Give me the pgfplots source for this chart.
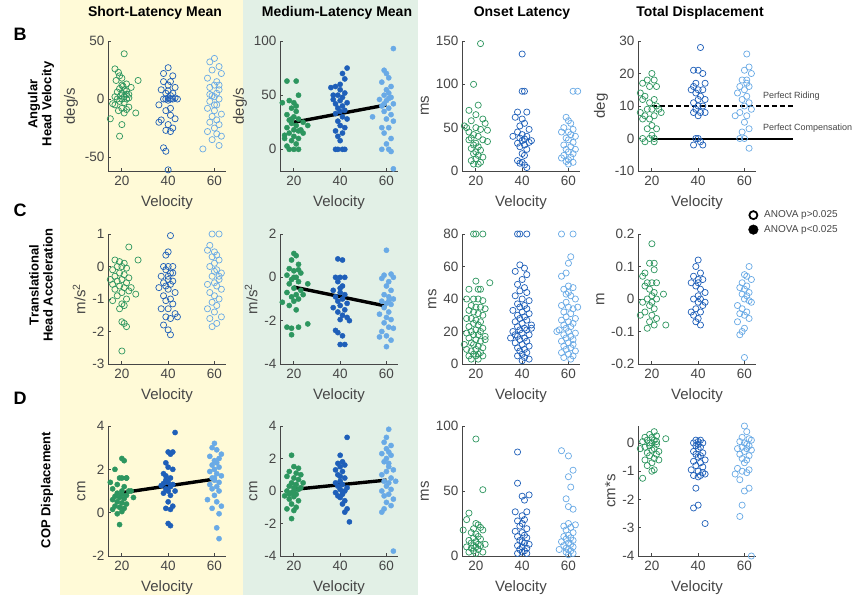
\documentclass[border=0pt]{standalone}
\usepackage{fontspec}
\setmainfont{Liberation Sans}
\usepackage{pgfplots}
\pgfplotsset{compat=1.18}

\definecolor{cg}{RGB}{45,150,95}
\definecolor{cb}{RGB}{30,95,185}
\definecolor{clb}{RGB}{105,170,230}
\definecolor{bgy}{RGB}{255,250,215}
\definecolor{bgg}{RGB}{226,240,230}
\definecolor{axgray}{RGB}{70,70,70}
\definecolor{txgray}{RGB}{70,70,70}

\pgfplotsset{
  panel/.style={
    scale only axis, width=118pt, height=130pt, anchor=north west,
    axis x line*=bottom, axis y line*=left,
    axis line style={draw=axgray, line width=0.8pt},
    xmin=14, xmax=65, xtick={20,40,60},
    tick align=inside, major tick length=3pt,
    tick style={axgray, line width=0.8pt},
    xlabel={Velocity},
    tick label style={font=\fontsize{13.5}{14}\selectfont, text=txgray},
    xticklabel style={yshift=-2pt},
    label style={font=\fontsize{15}{16}\selectfont, text=txgray},
    xlabel style={yshift=-3pt},
    /pgf/number format/assume math mode=true,
    clip=false,
  },
  op/.style={only marks, mark=o, mark size=3.1pt,
    mark options={line width=0.7pt, draw=#1, fill=none}},
  fl/.style={only marks, mark=*, mark size=2.6pt,
    mark options={draw=#1, fill=#1}},
  fit/.style={black, line width=3.4pt, no marks},
}

\begin{document}
\begin{tikzpicture}
\path[use as bounding box, fill=white] (0pt,0pt) rectangle (866pt,-613pt);
\fill[bgy] (60pt,0pt) rectangle (243pt,-595pt);
\fill[bgg] (243pt,0pt) rectangle (418pt,-595pt);

% column titles
\begin{scope}[every node/.style={font=\fontsize{14}{16}\selectfont\bfseries}]
\node at (155pt,-13pt) {Short-Latency Mean};
\node at (337pt,-13pt) {Medium-Latency Mean};
\node at (522pt,-13pt) {Onset Latency};
\node at (700pt,-13pt) {Total Displacement};
\end{scope}

% row letters and labels
\begin{scope}[every node/.style={font=\fontsize{18}{20}\selectfont\bfseries}]
\node at (20pt,-34pt) {B};
\node at (20pt,-210pt) {C};
\node at (20pt,-398pt) {D};
\end{scope}
\begin{scope}[every node/.style={font=\fontsize{13}{14}\selectfont\bfseries, rotate=90, align=center}]
\node at (41pt,-104pt) {Angular\\Head Velocity};
\node at (41pt,-285pt) {Translational\\Head Acceleration};
\node at (47pt,-490pt) {COP Displacement};
\end{scope}

% ---------------- row B ----------------
\begin{axis}[panel, at={(108pt,-41pt)}, ymin=-62, ymax=50, ytick={-50,0,50}, ylabel={deg/s}]
\addplot[op=cg] coordinates {(21,39)(17,26)(18.5,23)(19,20)(20,18)(17.5,16)(22,13)(20.5,11)(19,9)(21,8)(18,6)(20,5)(22,4)(19.5,3)(17,2)(21,2)(23,1)(18,0)(20,0)(22,0)(19,-2)(21,-3)(17,-5)(23,4)(20,-8)(22,-9)(18.5,-10)(21,-12)(15,-17)(20,-22)(19,-32)(27,16)(26,-12)(24,10)(23,-7)(16,-4)(20,12)(22,7)};
\addplot[op=cb] coordinates {(40,27)(38,22)(42,20)(41,15)(38,15)(40,12)(43,10)(37,8)(39,5)(41,3)(40,1)(39,0)(41,0)(42,0)(38,0)(43,1)(40,-1)(44,0)(36,-5)(41,-8)(39,-10)(41,-14)(43,-17)(37,-18)(40,-22)(42,-25)(39,-27)(38,-42)(39,-45)(40,-61)(41,-28)(36,-20)(42,5)(40,7)};
\addplot[op=clb] coordinates {(60,35)(58,32)(62,28)(59,25)(63,22)(57,18)(61,15)(60,12)(58,10)(62,8)(61,5)(59,3)(60,2)(62,0)(58,-2)(61,-5)(57,-8)(60,-10)(63,-13)(59,-15)(61,-18)(58,-20)(62,-22)(60,-25)(57,-28)(61,-30)(63,-32)(59,-35)(62,-40)(55,-43)(60,-5)(62,12)(58,4)};
\end{axis}

\begin{axis}[panel, at={(280pt,-41pt)}, ymin=-20, ymax=100, ytick={0,50,100}, ylabel={deg/s}]
\addplot[fl=cg] coordinates {(17,63)(21,63)(15,43)(20,43)(22,50)(18,45)(19,38)(21,35)(17,32)(20,30)(22,28)(18,27)(24,25)(19,24)(21,22)(17,20)(26,22)(20,18)(22,17)(18,15)(24,15)(16,13)(20,12)(22,10)(19,8)(21,5)(17,3)(18,0)(20,0)(22,0)(23,18)(19,28)(21,40)(16,10)};
\addplot[fl=cb] coordinates {(43,75)(41,70)(38,58)(36,57)(40,55)(42,52)(39,50)(41,48)(37,46)(40,45)(43,43)(38,42)(41,40)(39,38)(42,36)(40,35)(38,33)(41,30)(43,28)(39,26)(40,22)(42,20)(38,17)(41,15)(39,12)(40,8)(38,0)(39,0)(41,0)(42,0)(40,60)(37,50)(42,65)};
\addplot[fl=clb] coordinates {(63,93)(59,73)(60,70)(61,66)(58,62)(62,58)(60,55)(61,52)(59,50)(62,48)(57,46)(60,45)(63,42)(58,40)(61,38)(59,35)(62,32)(54,30)(60,28)(63,26)(58,20)(61,20)(59,15)(62,10)(60,5)(58,0)(61,0)(62,-2)(63,-18)(59,42)(61,47)};
\addplot[fit] coordinates {(20,25)(60,41)};
\end{axis}

\begin{axis}[panel, at={(462pt,-41pt)}, ymin=0, ymax=150, ytick={0,50,100,150}, ylabel={ms}]
\addplot[op=cg] coordinates {(22,147)(19,100)(21,76)(17,70)(20,65)(23,60)(18,58)(15,52)(16,50)(20,50)(22,48)(17,45)(25,47)(19,42)(21,40)(18,38)(23,36)(25,34)(20,32)(19,30)(21,28)(18,26)(22,24)(20,22)(19,20)(21,18)(23,16)(20,14)(18,12)(22,10)(19,8)(21,8)(24,55)(17,36)};
\addplot[op=cb] coordinates {(40,135)(40,92)(41,92)(38,68)(42,68)(37,62)(40,60)(41,55)(39,52)(43,48)(38,45)(40,42)(42,40)(39,38)(41,37)(40,35)(43,33)(38,32)(41,30)(39,28)(42,25)(40,20)(41,18)(38,12)(40,10)(39,9)(41,7)(42,4)(36,40)(44,35)};
\addplot[op=clb] coordinates {(62,92)(64,92)(59,62)(60,58)(61,55)(58,50)(62,48)(60,45)(57,45)(61,42)(63,40)(59,38)(60,36)(62,33)(58,30)(61,28)(59,25)(60,22)(62,20)(58,18)(61,16)(60,13)(59,11)(62,10)(57,15)(63,25)(60,8)};
\end{axis}

\begin{axis}[panel, at={(638pt,-41pt)}, ymin=-10, ymax=30, ytick={-10,0,10,20,30}, ylabel={deg}]
\addplot[op=cg] coordinates {(20,20)(18,18)(21,18)(16,17)(19,16)(15,14)(17,13)(21,12)(16,12)(19,11)(22,10)(18,9)(20,9)(15,8)(24,8)(17,7)(21,7)(19,6)(16,6)(20,4)(22,3)(18,3)(20,1)(16,0)(19,0)(21,0)(17,-1)(21,-1)(22,16)(23,9)};
\addplot[op=cb] coordinates {(41,28)(38,21)(40,21)(42,20)(43,17)(38,16)(40,15)(42,15)(37,15)(39,14)(41,13)(43,12)(38,11)(40,10)(42,10)(39,9)(41,8)(38,8)(43,8)(40,7)(39,0)(40,0)(41,-1)(38,-2)(42,-2)(40,12)(39,17)};
\addplot[op=clb] coordinates {(61,26)(62,22)(60,21)(63,20)(59,18)(61,17)(58,16)(62,16)(60,15)(57,14)(61,13)(59,12)(62,11)(60,10)(63,9)(58,8)(61,7)(56,7)(60,5)(62,3)(59,2)(60,0)(58,0)(62,-3)(61,18)};
\addplot[black, dashed, dash pattern=on 5pt off 3pt, line width=2pt] coordinates {(20,10)(81,10)};
\addplot[black, line width=2pt] coordinates {(20,0)(81,0)};
\node[anchor=west, font=\fontsize{9}{10}\selectfont, text=txgray] at (axis cs:66.5,13) {Perfect Riding};
\node[anchor=west, font=\fontsize{9}{10}\selectfont, text=txgray] at (axis cs:66.5,3.3) {Perfect Compensation};
\end{axis}

% ---------------- row C ----------------
\begin{axis}[panel, at={(108pt,-234pt)}, ymin=-3, ymax=1, ytick={-3,-2,-1,0,1}, ylabel={m/s\textsuperscript{2}}]
\addplot[op=cg] coordinates {(23,0.6)(27,0.2)(17,0.2)(19,0.15)(21,0.1)(18,0)(20,0)(22,-0.05)(16,-0.1)(19,-0.2)(21,-0.25)(17,-0.3)(23,-0.35)(20,-0.4)(18,-0.45)(22,-0.5)(16,-0.55)(19,-0.6)(21,-0.65)(17,-0.7)(23,-0.75)(20,-0.8)(26,-0.85)(18,-0.9)(22,-1.0)(16,-1.05)(20,-1.15)(21,-1.2)(19,-1.3)(20,-1.7)(21,-1.75)(22,-1.85)(20,-2.6)(24,-0.65)(15,-0.4)};
\addplot[op=cb] coordinates {(41,0.95)(40,0.45)(39,0.35)(38,0)(40,0)(42,0)(39,-0.1)(41,-0.2)(37,-0.3)(40,-0.4)(42,-0.45)(38,-0.5)(41,-0.55)(39,-0.6)(36,-0.65)(40,-0.7)(43,-0.8)(38,-0.9)(41,-1.0)(39,-1.05)(42,-1.15)(40,-1.3)(37,-1.3)(43,-1.45)(39,-1.55)(41,-1.6)(44,-1.55)(38,-1.8)(40,-1.95)(41,-2.1)(42,-0.2)(40,-0.3)};
\addplot[op=clb] coordinates {(59,1.0)(62,1.0)(58,0.65)(57,0.5)(60,0.45)(61,0.35)(59,0.3)(62,0.2)(60,0.1)(58,0)(61,-0.1)(63,-0.2)(59,-0.3)(62,-0.4)(60,-0.5)(57,-0.55)(61,-0.6)(63,-0.7)(58,-0.8)(60,-0.9)(62,-1.0)(59,-1.1)(61,-1.2)(57,-1.3)(60,-1.4)(63,-1.55)(58,-1.6)(61,-1.75)(59,-1.85)(62,-0.3)(60,-0.15)};
\end{axis}

\begin{axis}[panel, at={(280pt,-234pt)}, ymin=-4, ymax=2, ytick={-4,-2,0,2}, ylabel={m/s\textsuperscript{2}}]
\addplot[fl=cg] coordinates {(20,1.1)(21,1.0)(19,0.8)(22,0.6)(18,0.4)(20,0.3)(23,0.2)(17,0.1)(21,0)(19,-0.1)(22,-0.2)(26,-0.3)(18,-0.3)(20,-0.5)(23,-0.6)(17,-0.7)(21,-0.8)(19,-0.9)(22,-1.0)(15,-1.15)(20,-1.1)(18,-1.3)(21,-1.5)(17,-2.3)(19,-2.35)(22,-2.3)(26,-2.15)(19,-2.65)(24,-0.8)(20,0.0)(22,0.35)};
\addplot[fl=cb] coordinates {(39,0.85)(41,0.8)(38,0)(40,0)(42,0)(39,-0.2)(41,-0.4)(37,-0.6)(40,-0.7)(42,-0.8)(38,-0.9)(41,-1.0)(39,-1.1)(43,-1.2)(40,-1.3)(37,-1.4)(42,-1.5)(39,-1.6)(41,-1.75)(43,-1.85)(40,-1.95)(44,-2.0)(38,-2.45)(39,-2.55)(41,-2.7)(40,-3.1)(42,-3.1)(40,-0.5)};
\addplot[fl=clb] coordinates {(60,1.25)(62,0.15)(59,0.1)(63,0.0)(58,-0.05)(61,-0.2)(60,-0.4)(62,-0.6)(59,-0.8)(61,-0.9)(63,-1.0)(58,-1.1)(60,-1.2)(62,-1.25)(59,-1.4)(61,-1.6)(57,-1.7)(60,-1.85)(62,-1.95)(59,-2.1)(61,-2.3)(63,-2.35)(58,-2.5)(60,-2.7)(57,-2.75)(62,-2.9)(60,-3.2)(61,-1.1)};
\addplot[fit] coordinates {(20,-0.45)(60,-1.33)};
\end{axis}

\begin{axis}[panel, at={(462pt,-234pt)}, ymin=0, ymax=80, ytick={0,20,40,60,80}, ylabel={ms}]
\addplot[op=cg] coordinates {(19,80)(20,80)(23,80)(20,51)(26,50)(17,46)(21,46)(22,46)(16,40)(19,40)(21,40)(23,39)(18,36)(20,35)(22,35)(24,34)(17,33)(19,32)(21,31)(23,30)(16,28)(18,28)(20,27)(22,26)(19,25)(21,24)(17,23)(23,22)(20,21)(18,20)(22,20)(16,19)(19,18)(21,18)(24,17)(17,16)(20,15)(22,14)(18,13)(19,12)(21,11)(23,10)(16,9)(20,9)(18,8)(22,7)(19,6)(21,6)(17,5)(20,5)(23,5)(18,3)(21,3)(24,15)(15,12)};
\addplot[op=cb] coordinates {(38,80)(39,80)(42,80)(39,61)(41,59)(37,57)(42,55)(40,52)(38,49)(41,47)(39,45)(42,44)(37,42)(40,40)(43,39)(38,37)(41,36)(39,35)(42,34)(36,33)(40,32)(43,31)(38,30)(41,29)(39,28)(42,27)(37,26)(40,25)(44,24)(38,23)(41,22)(39,21)(42,21)(36,20)(40,19)(43,18)(38,17)(41,16)(35,16)(39,15)(42,14)(37,13)(40,12)(43,11)(38,10)(41,9)(39,8)(42,7)(40,6)(38,5)(41,4)(43,3)(40,2)(44,22)(37,18)};
\addplot[op=clb] coordinates {(57,80)(62,80)(61,66)(60,62)(59,56)(57,54)(62,47)(58,46)(60,44)(61,42)(63,40)(59,38)(57,36)(60,35)(62,34)(58,32)(61,31)(59,29)(63,28)(57,27)(60,26)(62,25)(58,24)(61,23)(59,22)(56,21)(60,20)(63,19)(58,18)(61,17)(59,16)(62,15)(57,14)(60,13)(62,12)(58,11)(61,10)(59,9)(63,8)(57,7)(60,6)(62,5)(58,4)(61,3)(55,20)(64,35)(59,43)(60,48)};
\end{axis}

\begin{axis}[panel, at={(638pt,-234pt)}, ymin=-0.2, ymax=0.2, ytick={-0.2,-0.1,0,0.1,0.2}, ylabel={m},
  legend style={at={(0.91,1.21)}, anchor=north west, draw=none, fill=none,
    font=\fontsize{10}{11}\selectfont, text=txgray, row sep=2pt},
  legend cell align=left]
\addlegendimage{only marks, mark=o, mark size=4pt, mark options={line width=1.8pt, draw=black}}
\addlegendentry{\hspace{4pt}ANOVA p>0.025}
\addlegendimage{only marks, mark=*, mark size=4.8pt, mark options={draw=black, fill=black}}
\addlegendentry{\hspace{4pt}ANOVA p<0.025}
\addplot[op=cg] coordinates {(20,0.17)(19,0.11)(21,0.11)(17,0.08)(21,0.09)(16,0.07)(22,0.05)(18,0.05)(20,0.05)(17,0.04)(19,0.03)(21,0.02)(20,0.01)(18,0)(22,0)(16,-0.01)(19,-0.02)(21,-0.03)(17,-0.04)(20,-0.05)(15,-0.05)(22,-0.06)(19,-0.07)(21,-0.08)(18,-0.09)(26,-0.08)(25,0.015)(20,-0.01)};
\addplot[op=cb] coordinates {(40,0.12)(39,0.1)(41,0.08)(38,0.07)(42,0.06)(37,0.05)(40,0.05)(39,0.04)(41,0.03)(43,0.02)(40,0.01)(38,0)(41,0)(40,-0.01)(42,-0.02)(39,-0.03)(41,-0.04)(38,-0.05)(40,-0.06)(39,-0.07)(41,-0.08)(37,-0.04)(43,-0.01)(40,0.06)};
\addplot[op=clb] coordinates {(62,0.1)(60,0.075)(61,0.07)(63,0.06)(59,0.05)(61,0.04)(58,0.035)(60,0.03)(62,0.02)(59,0.015)(61,0.01)(60,0)(62,-0.005)(57,-0.02)(59,-0.03)(61,-0.04)(58,-0.045)(60,-0.05)(62,-0.06)(57,-0.07)(60,-0.09)(59,-0.1)(58,-0.11)(60,-0.18)(63,-0.01)};
\end{axis}

% ---------------- row D ----------------
\begin{axis}[panel, at={(108pt,-426pt)}, ymin=-2, ymax=4, ytick={-2,0,2,4}, ylabel={cm}]
\addplot[fl=cg] coordinates {(20,2.5)(21,2.4)(17,2.0)(19,1.6)(22,1.6)(15,1.4)(18,1.3)(21,1.2)(16,1.1)(20,1.0)(23,1.0)(18,0.9)(20,0.85)(22,0.8)(17,0.75)(19,0.7)(21,0.65)(25,0.7)(16,0.6)(18,0.5)(20,0.45)(22,0.4)(17,0.3)(19,0.25)(21,0.2)(16,0.15)(20,0.05)(18,-0.05)(19,-0.55)(24,1.0)(22,1.6)(20,1.6)};
\addplot[fl=cb] coordinates {(43,3.7)(40,2.8)(42,2.8)(41,2.7)(39,2.3)(40,2.1)(42,2.0)(38,1.8)(41,1.6)(39,1.5)(40,1.4)(38,1.35)(42,1.3)(37,1.25)(41,1.2)(39,1.1)(40,1.0)(43,1.0)(38,0.9)(41,0.8)(40,0.5)(42,0.3)(39,0.2)(41,0.15)(40,-0.5)(41,-0.6)(39,1.7)};
\addplot[fl=clb] coordinates {(60,3.2)(59,3.0)(61,2.9)(63,2.7)(58,2.6)(62,2.5)(60,2.4)(61,2.3)(59,2.2)(62,2.1)(60,2.0)(58,1.9)(61,1.8)(63,1.7)(59,1.6)(60,1.5)(62,1.4)(58,1.3)(61,1.2)(59,1.1)(62,1.0)(60,0.8)(57,0.6)(61,0.5)(63,0.3)(59,0.2)(62,-0.05)(61,-0.7)(62,-1.2)(60,1.6)};
\addplot[fit] coordinates {(20,0.92)(60,1.55)};
\end{axis}

\begin{axis}[panel, at={(280pt,-426pt)}, ymin=-4, ymax=4, ytick={-4,-2,0,2,4}, ylabel={cm}]
\addplot[fl=cg] coordinates {(19,2.2)(20,1.5)(22,1.4)(18,1.2)(21,1.1)(23,1.0)(17,0.9)(20,0.8)(22,0.7)(19,0.5)(24,0.5)(21,0.4)(18,0.3)(20,0.2)(22,0.1)(17,0)(19,-0.1)(21,-0.2)(16,-0.3)(20,-0.35)(18,-0.5)(22,-0.6)(19,-0.8)(21,-1.0)(17,-1.1)(20,-1.2)(19,-1.7)(23,0.2)(18,-0.2)(20,0.0)};
\addplot[fl=cb] coordinates {(43,3.3)(40,2.2)(41,1.8)(39,1.7)(42,1.6)(40,1.5)(38,1.3)(41,1.2)(39,1.0)(42,0.8)(40,0.6)(38,0.5)(41,0.4)(39,0.3)(43,0.2)(40,0.1)(42,0.0)(38,-0.1)(41,-0.2)(39,-0.3)(40,-0.4)(42,-0.6)(41,-0.8)(43,-1.1)(42,-1.3)(44,-1.9)(40,0.9)(41,-0.05)};
\addplot[fl=clb] coordinates {(61,3.8)(60,3.3)(59,3.0)(62,2.8)(60,2.6)(61,2.4)(58,2.3)(62,2.2)(60,2.0)(59,1.8)(61,1.5)(63,1.3)(60,1.2)(58,1.0)(62,0.8)(59,0.6)(61,0.5)(64,0.6)(60,0.3)(62,0.1)(58,0.0)(61,-0.2)(59,-0.3)(63,-0.5)(60,-0.7)(62,-0.9)(59,-1.1)(58,-1.3)(63,-3.7)(61,1.7)};
\addplot[fit] coordinates {(20,0.1)(60,0.67)};
\end{axis}

\begin{axis}[panel, at={(462pt,-426pt)}, ymin=0, ymax=100, ytick={0,50,100}, ylabel={ms}]
\addplot[op=cg] coordinates {(20,90)(23,51)(17,33)(16,28)(20,25)(21,24)(22,22)(19,21)(14.5,20)(23,20)(18,18)(20,17)(21,15)(24,9)(19,14)(22,13)(17,12)(20,11)(18,10)(21,9)(19,8)(22,8)(16,7)(20,7)(18,6)(21,5)(19,4)(23,3)(17,3)(20,2)};
\addplot[op=cb] coordinates {(38,80)(38,56)(43,47)(40,46)(41,43)(37,34)(42,34)(40,31)(41,28)(38,27)(40,25)(39,23)(42,21)(37,19)(40,18)(41,16)(38,15)(42,14)(39,12)(40,11)(41,10)(43,9)(38,8)(40,7)(42,6)(39,5)(41,4)(40,3)(38,2)(42,2)};
\addplot[op=clb] coordinates {(57,81)(60,77)(62,66)(60,61)(61,53)(59,44)(60,38)(62,36)(60,25)(63,24)(58,23)(61,22)(59,20)(62,18)(60,16)(58,15)(61,14)(59,13)(62,12)(57,11)(60,10)(61,9)(58,8)(62,7)(59,6)(60,5)(56,5)(61,4)(59,3)(62,2)(60,1)};
\end{axis}

\begin{axis}[panel, at={(638pt,-426pt)}, ymin=-4, ymax=0.6, ytick={-4,-3,-2,-1,0}, ylabel={cm*s}]
\addplot[op=cg] coordinates {(21,0.4)(19,0.3)(22,0.25)(17,0.2)(20,0.2)(26,0.15)(18,0.1)(21,0.1)(16,0.05)(20,0.0)(22,-0.05)(19,-0.1)(17,-0.15)(21,-0.2)(15,-0.2)(20,-0.25)(23,-0.3)(18,-0.35)(22,-0.4)(19,-0.45)(21,-0.55)(17,-0.6)(20,-0.7)(23,-0.6)(18,-0.8)(21,-0.95)(20,-1.0)(16,-1.25)(19,0.0)(22,0.05)};
\addplot[op=cb] coordinates {(39,0.1)(41,0.1)(40,0.05)(38,0.0)(42,0.0)(40,-0.05)(39,-0.1)(41,-0.15)(40,-0.2)(38,-0.3)(42,-0.35)(39,-0.4)(41,-0.45)(40,-0.5)(43,-0.6)(38,-0.65)(41,-0.7)(39,-0.8)(42,-0.85)(37,-0.95)(40,-1.0)(42,-1.05)(38,-1.15)(41,-1.15)(43,-1.1)(40,-1.2)(39,-1.6)(38,-2.3)(40,-2.2)(43,-2.85)};
\addplot[op=clb] coordinates {(60,0.6)(61,0.4)(59,0.2)(62,0.15)(63,0.1)(58,0.05)(60,0.0)(61,-0.05)(62,-0.1)(59,-0.15)(57,-0.2)(61,-0.2)(63,-0.25)(60,-0.3)(58,-0.4)(62,-0.45)(59,-0.55)(61,-0.6)(60,-0.7)(57,-0.9)(62,-0.95)(59,-1.0)(61,-1.05)(56,-1.1)(58,-1.3)(60,-1.7)(62,-1.6)(59,-2.2)(58,-2.6)(63,-4.0)};
\end{axis}
\end{tikzpicture}
\end{document}
